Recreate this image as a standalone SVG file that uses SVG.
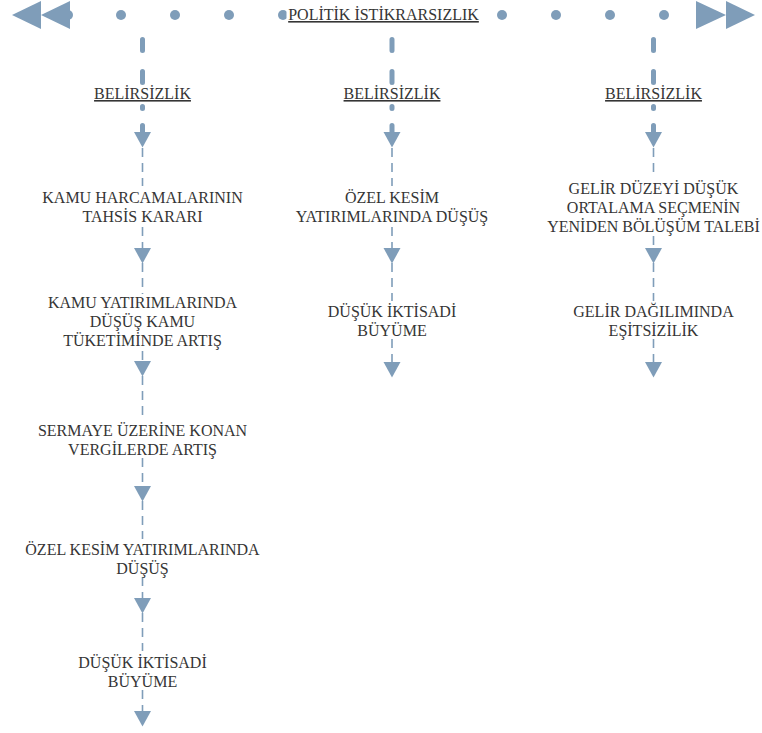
<svg xmlns="http://www.w3.org/2000/svg" xmlns:xlink="http://www.w3.org/1999/xlink" width="762" height="733" viewBox="0 0 762 733">
<defs>
<style>
.t{font-family:"Liberation Serif","Times New Roman",serif;font-size:16px;fill:#353535;text-anchor:middle}
.u{text-decoration:underline}
.thick{stroke:#7f9db9;stroke-width:5;stroke-linecap:round;fill:none}
.thin{stroke:#7f9db9;stroke-width:1.6;stroke-dasharray:9 6;fill:none}
.fillc{fill:#7f9db9}
</style>
<path id="ah" d="M-8.5,0 L8.5,0 L0,15.5 Z" fill="#7f9db9"/>
</defs>
<rect width="762" height="733" fill="#ffffff"/>

<g id="topbar">
<g class="fillc">
<circle cx="68" cy="15" r="5"/>
<circle cx="121" cy="15" r="5"/>
<circle cx="175" cy="15" r="5"/>
<circle cx="229" cy="15" r="5"/>
<circle cx="283" cy="15" r="5"/>
<circle cx="502" cy="15" r="5"/>
<circle cx="556" cy="15" r="5"/>
<circle cx="610" cy="15" r="5"/>
<circle cx="664" cy="15" r="5"/>
<polygon points="12,15 41,1 41,29"/>
<polygon points="41,15 70,1 70,29"/>
<polygon points="696,1 726,15 696,29"/>
<polygon points="726,1 755,15 726,29"/>
</g>
</g>

<g id="connectors">
<!-- column 1 -->
<path class="thick" d="M142.5 39.5 V50.5 M142.5 71.5 V82.5 M142.5 106.5 V108.5 M142.5 125.5 V134"/>
<use xlink:href="#ah" x="142.5" y="132"/>
<path class="thin" d="M142.5 148 V186 M142.5 227 V248 M142.5 263 V294 M142.5 351 V361 M142.5 376 V421 M142.5 458 V486 M142.5 501 V539 M142.5 577 V598 M142.5 613 V651 M142.5 690 V711"/>
<use xlink:href="#ah" x="142.5" y="248"/>
<use xlink:href="#ah" x="142.5" y="361"/>
<use xlink:href="#ah" x="142.5" y="486"/>
<use xlink:href="#ah" x="142.5" y="598"/>
<use xlink:href="#ah" x="142.5" y="711"/>
<!-- column 2 -->
<path class="thick" d="M392 39.5 V50.5 M392 71.5 V82.5 M392 106.5 V108.5 M392 125.5 V134"/>
<use xlink:href="#ah" x="392" y="132"/>
<path class="thin" d="M392 148 V186 M392 227 V248 M392 263 V301 M392 339 V362"/>
<use xlink:href="#ah" x="392" y="248"/>
<use xlink:href="#ah" x="392" y="362"/>
<!-- column 3 -->
<path class="thick" d="M653.5 39.5 V50.5 M653.5 71.5 V82.5 M653.5 106.5 V108.5 M653.5 125.5 V134"/>
<use xlink:href="#ah" x="653.5" y="132"/>
<path class="thin" d="M653.5 148 V177 M653.5 236 V248 M653.5 263 V301 M653.5 339 V362"/>
<use xlink:href="#ah" x="653.5" y="248"/>
<use xlink:href="#ah" x="653.5" y="362"/>
</g>

<g id="n-politik">
<rect x="286.5" y="3" width="195" height="22" fill="#ffffff"/>
<text class="t u" x="383.5" y="20">POLİTİK İSTİKRARSIZLIK</text>
</g>

<g id="n-belirsizlik1"><text class="t u" x="142.5" y="99">BELİRSİZLİK</text></g>
<g id="n-belirsizlik2"><text class="t u" x="392" y="99">BELİRSİZLİK</text></g>
<g id="n-belirsizlik3"><text class="t u" x="653.5" y="99">BELİRSİZLİK</text></g>

<g id="n-c1-1"><text class="t" x="142.5" y="203">KAMU HARCAMALARININ</text><text class="t" x="142.5" y="222">TAHSİS KARARI</text></g>
<g id="n-c1-2"><text class="t" x="142.5" y="308">KAMU YATIRIMLARINDA</text><text class="t" x="142.5" y="327">DÜŞÜŞ KAMU</text><text class="t" x="142.5" y="346">TÜKETİMİNDE ARTIŞ</text></g>
<g id="n-c1-3"><text class="t" x="142.5" y="436">SERMAYE ÜZERİNE KONAN</text><text class="t" x="142.5" y="455">VERGİLERDE ARTIŞ</text></g>
<g id="n-c1-4"><text class="t" x="142.5" y="555">ÖZEL KESİM YATIRIMLARINDA</text><text class="t" x="142.5" y="574">DÜŞÜŞ</text></g>
<g id="n-c1-5"><text class="t" x="142.5" y="668">DÜŞÜK İKTİSADİ</text><text class="t" x="142.5" y="687">BÜYÜME</text></g>

<g id="n-c2-1"><text class="t" x="392" y="203">ÖZEL KESİM</text><text class="t" x="392" y="222">YATIRIMLARINDA DÜŞÜŞ</text></g>
<g id="n-c2-2"><text class="t" x="392" y="317">DÜŞÜK İKTİSADİ</text><text class="t" x="392" y="336">BÜYÜME</text></g>

<g id="n-c3-1"><text class="t" x="653.5" y="194">GELİR DÜZEYİ DÜŞÜK</text><text class="t" x="653.5" y="213">ORTALAMA SEÇMENİN</text><text class="t" x="653.5" y="232">YENİDEN BÖLÜŞÜM TALEBİ</text></g>
<g id="n-c3-2"><text class="t" x="653.5" y="317">GELİR DAĞILIMINDA</text><text class="t" x="653.5" y="336">EŞİTSİZİLİK</text></g>
</svg>
